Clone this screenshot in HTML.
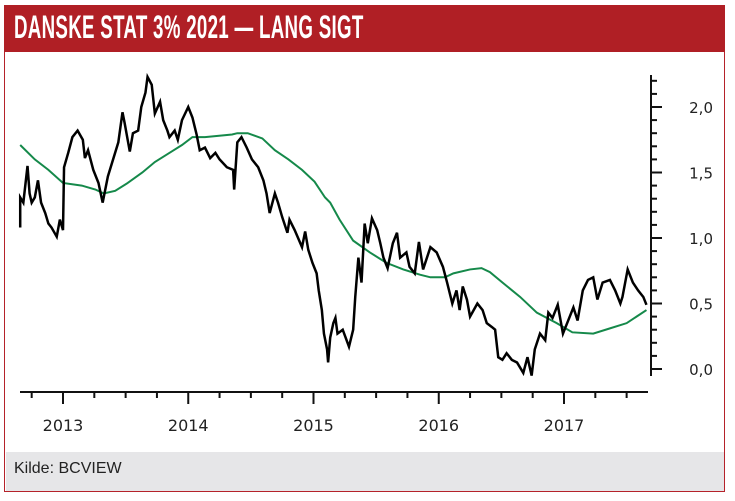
<!DOCTYPE html>
<html><head><meta charset="utf-8"><style>
body{margin:0;width:735px;height:501px;background:#fff;overflow:hidden;font-family:"Liberation Sans",sans-serif}
#frame{position:absolute;left:4px;top:5px;width:721px;height:487px;border:1.5px solid #b5222a;box-sizing:border-box;background:#fff}
#hdr{position:absolute;left:4px;top:5px;width:721px;height:47px;background:#b01f25}
#title{position:absolute;left:14px;top:9px;color:#fff;font-family:"Liberation Sans Narrow","Liberation Sans",sans-serif;font-weight:bold;font-size:32px;letter-spacing:0.5px;transform:scaleX(0.585);transform-origin:left;white-space:nowrap}
#foot{position:absolute;left:5.5px;top:452px;width:718px;height:38.5px;background:#e6e6e8}
#src{position:absolute;left:14px;top:460px;font-size:16px;color:#222}
svg{position:absolute;left:0;top:0}
</style></head><body>
<div id="frame"></div>
<div id="hdr"></div>
<div id="title">DANSKE STAT 3% 2021 — LANG SIGT</div>
<div id="foot"></div>
<div id="src">Kilde: BCVIEW</div>
<svg id="chart" width="735" height="501"></svg>
<script>
// months since Jan 2013
const priceMonths=[-4.1,-4.1,-3.8,-3.4,-3.2,-3.0,-2.7,-2.4,-2.1,-1.7,-1.4,-1.1,-0.6,-0.3,0,0.1,0.5,0.9,1.4,1.9,2.1,2.4,2.9,3.4,3.8,4.3,4.8,5.3,5.7,5.9,6.4,6.7,7.2,7.5,7.9,8.1,8.5,8.8,9.3,9.6,10.0,10.2,10.7,11.0,11.4,12.0,12.4,12.8,13.1,13.6,14.1,14.6,15.0,15.7,16.3,16.4,16.7,17.1,17.6,18.1,18.7,19.2,19.5,19.8,20.3,20.6,21.0,21.5,21.7,22.2,22.9,23.2,23.5,23.9,24.3,24.5,24.8,25.0,25.3,25.4,25.6,25.9,26.1,26.3,26.8,27.4,27.8,28.0,28.3,28.6,28.9,29.2,29.6,30.1,30.4,30.7,31.1,31.6,32.0,32.3,32.9,33.2,33.7,34.1,34.5,35.2,35.8,36.4,36.8,37.3,37.7,38.0,38.3,38.7,39.0,39.7,40.2,40.6,41.1,41.4,41.7,42.1,42.5,43.0,43.5,44.1,44.5,44.9,45.2,45.7,46.2,46.5,46.9,47.4,47.9,48.4,48.9,49.3,49.8,50.3,50.8,51.2,51.7,52.4,52.9,53.4,53.6,54.1,54.6,55.1,55.6,55.9];
const priceValues=[1.08,1.31,1.27,1.55,1.34,1.27,1.31,1.44,1.27,1.19,1.11,1.08,1.01,1.14,1.06,1.54,1.65,1.77,1.82,1.75,1.61,1.67,1.52,1.42,1.27,1.47,1.60,1.73,1.96,1.88,1.66,1.80,1.82,2.00,2.11,2.23,2.17,1.95,2.04,1.90,1.82,1.77,1.82,1.75,1.90,2.00,1.92,1.79,1.67,1.69,1.61,1.65,1.60,1.54,1.52,1.37,1.73,1.77,1.69,1.60,1.54,1.44,1.34,1.19,1.34,1.27,1.16,1.04,1.14,1.06,0.93,1.05,0.91,0.81,0.73,0.60,0.45,0.27,0.15,0.05,0.24,0.35,0.39,0.27,0.30,0.17,0.30,0.55,0.85,0.66,1.11,0.96,1.15,1.06,0.96,0.85,0.77,0.96,1.04,0.85,0.89,0.78,0.73,0.97,0.76,0.93,0.89,0.78,0.66,0.50,0.60,0.45,0.63,0.53,0.40,0.50,0.45,0.35,0.32,0.30,0.09,0.07,0.12,0.07,0.05,-0.03,0.09,-0.05,0.15,0.27,0.22,0.43,0.39,0.49,0.27,0.37,0.47,0.37,0.60,0.68,0.70,0.53,0.66,0.68,0.60,0.50,0.55,0.76,0.66,0.60,0.55,0.49];
const avgMonths=[-4.1,-2.7,-1.4,0,1.8,3.1,3.9,5.0,6.2,7.6,8.8,10.4,11.4,12.4,13.6,16.2,16.7,17.7,19.1,20.3,21.6,22.9,24.1,25.1,25.6,26.5,27.8,29.4,31.0,32.6,34.2,35.2,36.6,37.4,39.0,40.1,40.9,42.1,43.8,45.4,47.3,48.8,50.8,52.4,54.0,55.9];
const avgValues=[1.71,1.60,1.52,1.42,1.40,1.37,1.34,1.36,1.42,1.50,1.58,1.66,1.71,1.77,1.77,1.79,1.80,1.80,1.76,1.67,1.60,1.52,1.43,1.31,1.27,1.14,0.98,0.89,0.81,0.76,0.72,0.70,0.70,0.73,0.76,0.77,0.74,0.66,0.55,0.43,0.35,0.28,0.27,0.31,0.35,0.45];
const yearLabels=["2013","2014","2015","2016","2017"];
const yTickLabels=["0,0","0,5","1,0","1,5","2,0"];
const yTickValues=[0,0.5,1.0,1.5,2.0];

const X=m=>63+m*125.25/12;
const Y=v=>369-v*131;
const NS="http://www.w3.org/2000/svg";
const svg=document.getElementById('chart');
function mk(t,a){const e=document.createElementNS(NS,t);for(const k in a)e.setAttribute(k,a[k]);svg.appendChild(e);return e;}
let e=mk('line',{x1:651,y1:75,x2:651,y2:376,stroke:'#111','stroke-width':2});


for(let i=0;i<=22;i++){const v=i/10;const maj=i%5===0;
 e=mk('line',{x1:651,y1:Y(v),x2:maj?662:657,y2:Y(v),stroke:'#111','stroke-width':2});
 
 }
yTickValues.forEach((v,i)=>{e=mk('text',{x:713,y:Y(v)+6,'text-anchor':'end','font-family':'DejaVu Sans,sans-serif','font-size':15,fill:'#222'});e.textContent=yTickLabels[i];
 
 });
e=mk('line',{x1:20,y1:392,x2:648,y2:392,stroke:'#111','stroke-width':2});


for(let q=-1;q<=18;q++){const m=q*3;const x=X(m);if(x<22||x>646)continue;const maj=q%4===0;
 e=mk('line',{x1:x,y1:392,x2:x,y2:maj?404:398,stroke:'#111','stroke-width':2});
 
 }
yearLabels.forEach((l,i)=>{e=mk('text',{x:X(i*12),y:431,'text-anchor':'middle','font-family':'DejaVu Sans,sans-serif','font-size':16,fill:'#222'});e.textContent=l;
 
 });
e=mk('polyline',{points:avgMonths.map((m,i)=>X(m)+','+Y(avgValues[i])).join(' '),fill:'none',stroke:'#15894a','stroke-width':2});


e=mk('polyline',{points:priceMonths.map((m,i)=>X(m)+','+Y(priceValues[i])).join(' '),fill:'none',stroke:'#000','stroke-width':2.5,'stroke-linejoin':'miter'});


</script>
</body></html>
